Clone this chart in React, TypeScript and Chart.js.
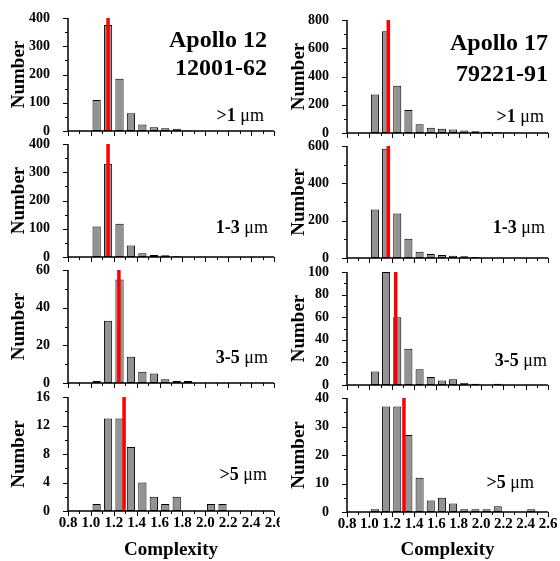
import React, { useEffect, useRef } from 'react';
import { Chart, registerables } from 'chart.js';

Chart.register(...registerables);

const FONT_FAMILY = '"Liberation Serif", "Times New Roman", Times, serif';

// Histogram bin centres (bin width 0.1, starting at 1.0)
const BIN_CENTERS = [1.05, 1.15, 1.25, 1.35, 1.45, 1.55, 1.65, 1.75, 1.85, 1.95, 2.05, 2.15, 2.25, 2.35, 2.45];

// Apollo 12, 12001-62
const A12_GT1 = [110, 375, 185, 63, 23, 13, 10, 8, 2, 1, 1, 1, 0, 0, 0];
const A12_1TO3 = [108, 330, 118, 41, 13, 7, 6, 3, 1, 1, 0, 0, 0, 0, 0];
const A12_3TO5 = [1, 33, 55, 14, 6, 5, 2, 1, 1, 0, 0, 0, 0, 0, 0];
const A12_GT5 = [1, 13, 13, 9, 4, 2, 1, 2, 0, 0, 1, 1, 0, 0, 0];
const A12_MEAN = [1.15, 1.15, 1.245, 1.29];
const A12_Y_MAX = [400, 400, 60, 16];
const A12_Y_STEP = [100, 100, 20, 4];

// Apollo 17, 79221-91
const A17_GT1 = [272, 720, 335, 163, 62, 38, 30, 25, 18, 12, 8, 6, 4, 2, 1];
const A17_1TO3 = [260, 585, 238, 103, 33, 22, 16, 12, 9, 5, 2, 2, 1, 1, 0];
const A17_3TO5 = [12, 100, 60, 32, 14, 7, 4, 5, 2, 1, 0, 1, 0, 0, 0];
const A17_GT5 = [1, 37, 37, 27, 12, 4, 5, 3, 1, 1, 1, 2, 0, 0, 1];
const A17_MEAN = [1.17, 1.17, 1.236, 1.31];
const A17_Y_MAX = [800, 600, 100, 40];
const A17_Y_STEP = [200, 200, 20, 10];

const SIZE_LABELS = ['>1', '1-3', '3-5', '>5'];
const SAMPLE_TITLES = [['Apollo 12', '12001-62'], ['Apollo 17', '79221-91']];

const X_MIN = 0.8;
const X_MAX = 2.6;
const X_STEP = 0.2;

// ---- layout (page pixels) ----
const COL_X = [0, 280];
const CANVAS_W = 280;
const PLOT_LEFT = [68, 67];
const PLOT_RIGHT_PAD = [6, 12];
const PLOT_TOP = [[18, 144, 270, 397], [20, 146, 272, 398]];
const PLOT_BOTTOM = [[131, 257, 383, 511], [133, 258, 385, 512]];
const TOP_PAD = 12;
const PAGE_H = 561;
const TITLE_RIGHT = [267, 548];
const TITLE_BASE = [[47, 75], [50, 81]];
const SIZE_RIGHT = [[264, 268, 268, 267], [544, 545, 547, 534]];
const SIZE_BASE = [[121, 233, 363, 480], [122, 233, 366, 488]];

const SERIES = [
  [A12_GT1, A12_1TO3, A12_3TO5, A12_GT5],
  [A17_GT1, A17_1TO3, A17_3TO5, A17_GT5],
];
const MEANS = [A12_MEAN, A17_MEAN];
const Y_MAX = [A12_Y_MAX, A17_Y_MAX];
const Y_STEP = [A12_Y_STEP, A17_Y_STEP];

type Part = { text: string; bold: boolean; size: number };
type TextSpec = { parts: Part[]; right: number; baseline: number };

const decorPlugin = {
  id: 'decor',
  afterDraw(chart: any, _args: any, opts: any) {
    const { ctx, chartArea, scales } = chart;
    const xs = scales.x;
    const ys = scales.y;
    ctx.save();
    ctx.strokeStyle = '#000';
    ctx.lineWidth = 1.5;
    ctx.beginPath();
    ctx.moveTo(chartArea.left, chartArea.top);
    ctx.lineTo(chartArea.left, chartArea.bottom);
    ctx.lineTo(chartArea.right, chartArea.bottom);
    ctx.stroke();

    ctx.lineWidth = 1;
    ctx.beginPath();
    const minor = opts.yStep / 2;
    const n = Math.round(opts.yMax / minor);
    for (let i = 0; i <= n; i++) {
      const v = i * minor;
      const py = Math.round(ys.getPixelForValue(v)) + 0.5;
      const len = i % 2 === 0 ? 5 : 3;
      ctx.moveTo(chartArea.left - len, py);
      ctx.lineTo(chartArea.left, py);
    }
    const nx = Math.round((X_MAX - X_MIN) / (X_STEP / 2));
    for (let i = 0; i <= nx; i++) {
      const v = X_MIN + (i * X_STEP) / 2;
      const px = Math.round(xs.getPixelForValue(v)) + 0.5;
      const len = i % 2 === 0 ? 5 : 3;
      ctx.moveTo(px, chartArea.bottom);
      ctx.lineTo(px, chartArea.bottom + len);
    }
    ctx.stroke();

    ctx.fillStyle = '#000';
    ctx.textAlign = 'left';
    ctx.textBaseline = 'alphabetic';
    (opts.texts as TextSpec[]).forEach((t) => {
      let total = 0;
      const widths = t.parts.map((p) => {
        ctx.font = `${p.bold ? 'bold ' : ''}${p.size}px ${FONT_FAMILY}`;
        const w = ctx.measureText(p.text).width;
        total += w;
        return w;
      });
      let x = t.right - total;
      t.parts.forEach((p, i) => {
        ctx.font = `${p.bold ? 'bold ' : ''}${p.size}px ${FONT_FAMILY}`;
        ctx.fillText(p.text, x, t.baseline);
        x += widths[i];
      });
    });
    ctx.restore();
  },
};

function Panel({ col, row }: { col: number; row: number }) {
  const ref = useRef<HTMLCanvasElement | null>(null);
  const isBottom = row === 3;
  const top = PLOT_TOP[col][row] - TOP_PAD;
  const plotH = PLOT_BOTTOM[col][row] - PLOT_TOP[col][row];
  const xAxisH = isBottom ? PAGE_H - PLOT_BOTTOM[col][row] : 8;
  const height = TOP_PAD + plotH + xAxisH;

  useEffect(() => {
    if (!ref.current) return;
    const values = SERIES[col][row];
    const mean = MEANS[col][row];
    const yMax = Y_MAX[col][row];
    const yStep = Y_STEP[col][row];
    const left = COL_X[col];

    const texts: TextSpec[] = [];
    if (row === 0) {
      SAMPLE_TITLES[col].forEach((s, i) => {
        texts.push({
          parts: [{ text: s, bold: true, size: 24 }],
          right: TITLE_RIGHT[col] - left,
          baseline: TITLE_BASE[col][i] - top,
        });
      });
    }
    texts.push({
      parts: [
        { text: SIZE_LABELS[row] + ' ', bold: true, size: 18 },
        { text: 'μm', bold: false, size: 18 },
      ],
      right: SIZE_RIGHT[col][row] - left,
      baseline: SIZE_BASE[col][row] - top,
    });

    const chart = new Chart(ref.current, {
      type: 'bar',
      data: {
        datasets: [
          {
            type: 'line',
            data: [
              { x: mean, y: 0 },
              { x: mean, y: yMax },
            ],
            borderColor: '#ff0000',
            borderWidth: 3.5,
            pointRadius: 0,
            order: 0,
            clip: 4,
          } as any,
          {
            type: 'bar',
            data: BIN_CENTERS.map((c, i) => ({ x: c, y: values[i] })),
            backgroundColor: '#939393',
            borderColor: '#000000',
            borderWidth: 1,
            borderSkipped: false,
            barPercentage: 0.72,
            categoryPercentage: 1,
            order: 1,
          } as any,
        ],
      },
      options: {
        responsive: false,
        animation: false,
        layout: { padding: { left: 0, right: PLOT_RIGHT_PAD[col], top: TOP_PAD, bottom: 0 } },
        plugins: {
          legend: { display: false },
          tooltip: { enabled: false },
          decor: { yMax, yStep, texts },
        } as any,
        scales: {
          x: {
            type: 'linear',
            min: X_MIN,
            max: X_MAX,
            offset: false,
            grid: { display: false, drawTicks: false },
            border: { display: false },
            ticks: {
              display: isBottom,
              stepSize: X_STEP,
              autoSkip: false,
              maxRotation: 0,
              padding: 3,
              color: '#000',
              font: { family: FONT_FAMILY, size: 15, weight: 'bold' },
              callback: (v: any) => Number(v).toFixed(1),
            },
            title: {
              display: isBottom,
              text: 'Complexity',
              color: '#000',
              padding: 0,
              font: { family: FONT_FAMILY, size: 19, weight: 'bold' },
            },
            afterFit: (s: any) => {
              s.height = xAxisH;
              s.paddingLeft = 0;
              s.paddingRight = 0;
            },
          },
          y: {
            type: 'linear',
            min: 0,
            max: yMax,
            grid: { display: false, drawTicks: false },
            border: { display: false },
            ticks: {
              stepSize: yStep,
              padding: 18,
              color: '#000',
              font: { family: FONT_FAMILY, size: 14, weight: 'bold' },
            },
            title: {
              display: true,
              text: 'Number',
              color: '#000',
              padding: { top: 8, bottom: 0 },
              font: { family: FONT_FAMILY, size: 19, weight: 'bold' },
            },
            afterFit: (s: any) => {
              s.width = PLOT_LEFT[col];
              s.paddingTop = 0;
              s.paddingBottom = 0;
            },
          },
        },
      } as any,
      plugins: [decorPlugin as any],
    });
    return () => chart.destroy();
  }, [col, row]);

  return (
    <canvas
      ref={ref}
      width={CANVAS_W}
      height={height}
      style={{
        position: 'absolute',
        left: COL_X[col],
        top,
        width: CANVAS_W,
        height,
        display: 'block',
      }}
    />
  );
}

export default function App() {
  const cells: { col: number; row: number }[] = [];
  for (let col = 0; col < 2; col++) for (let row = 0; row < 4; row++) cells.push({ col, row });
  return (
    <div
      style={{
        position: 'fixed',
        left: 0,
        top: 0,
        width: 560,
        height: 561,
        background: '#fff',
        overflow: 'hidden',
      }}
    >
      {cells.map((c) => (
        <Panel key={`${c.col}-${c.row}`} col={c.col} row={c.row} />
      ))}
    </div>
  );
}
